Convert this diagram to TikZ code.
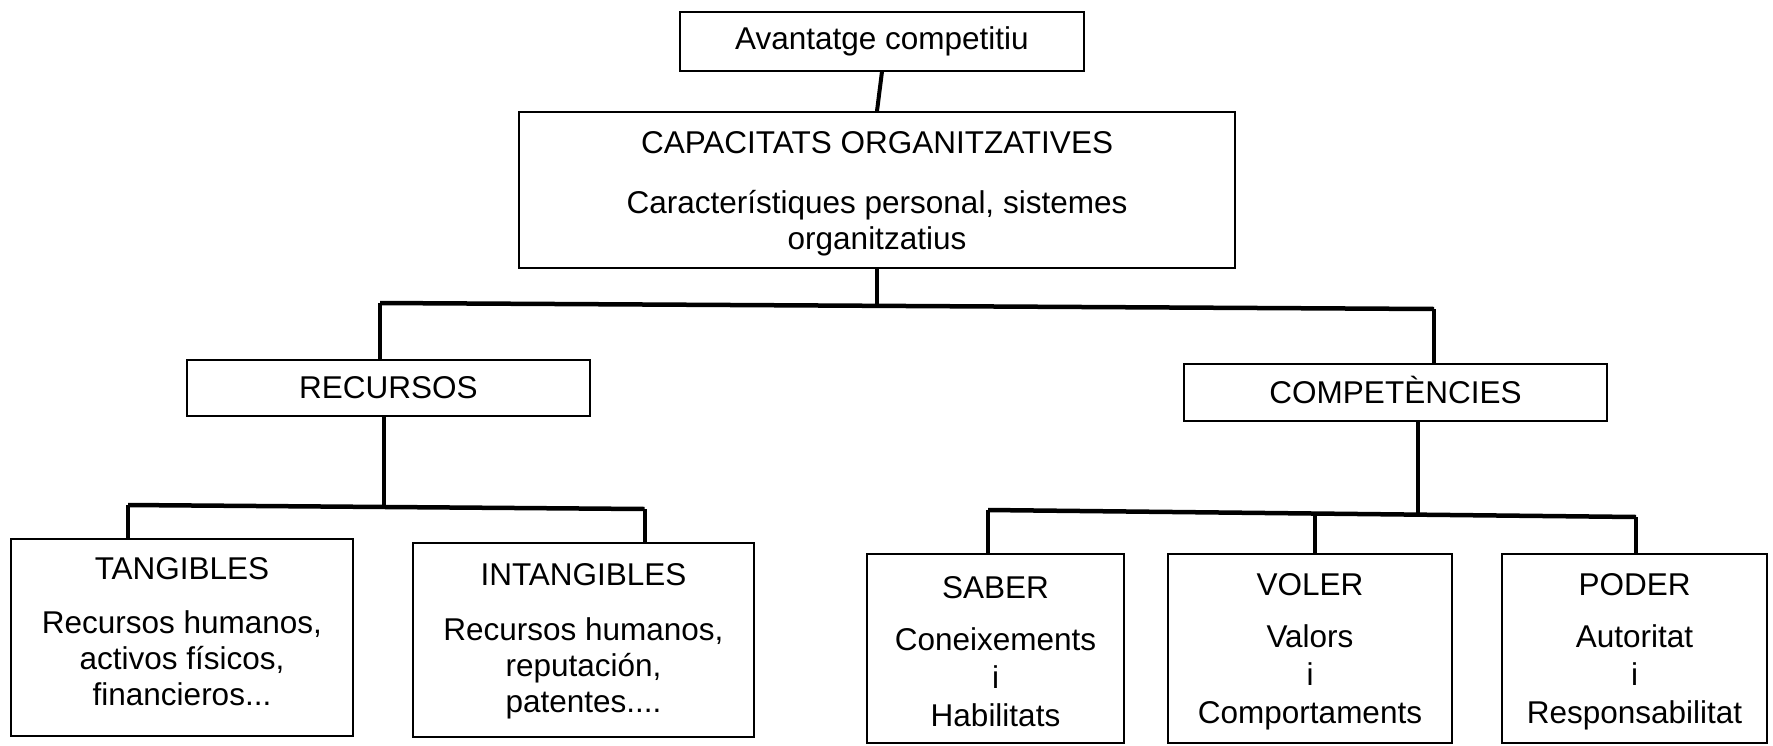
\documentclass[tikz,border=0pt]{standalone}
\usepackage{fontspec}
\setmainfont{Liberation Sans}
\begin{document}
\begin{tikzpicture}[x=1pt,y=-1pt,
  box/.style={draw, line width=2pt, rectangle, inner sep=0pt, align=center,
              font=\fontsize{31.5}{36}\selectfont},
  tallbox/.style={box, minimum height=189pt, font=\fontsize{31.5}{38}\selectfont},
  stem/.style={line width=4pt},
  bar/.style={line width=4.5pt}]
\useasboundingbox (0,0) rectangle (1773,745);
\fill[white] (0,0) rectangle (1773,745);

% boxes
\node[box, minimum width=404pt, minimum height=59pt] (av) at (882,41) {Avantatge competitiu};
\node[box, minimum width=716pt, minimum height=156pt] (cap) at (877,190)
  {\rule{0pt}{30pt}CAPACITATS ORGANITZATIVES\\[24pt]Característiques personal, sistemes\\organitzatius};
\node[box, minimum width=403pt, minimum height=56pt] (rec) at (388.5,388) {RECURSOS};
\node[box, minimum width=423pt, minimum height=57pt] (comp) at (1395.5,392.5)
  {\smash{COMPETÈNCIES}\vphantom{CO}};
\node[box, minimum width=342pt, minimum height=197pt] (tan) at (182,637.5)
  {TANGIBLES\\[18pt]Recursos humanos,\\activos físicos,\\financieros...\rule[-12.5pt]{0pt}{12.5pt}};
\node[box, minimum width=341pt, minimum height=194pt] (intan) at (583.5,640)
  {\rule{0pt}{25pt}INTANGIBLES\\[19pt]Recursos humanos,\\reputación,\\patentes....};
\node[tallbox, minimum width=257pt] (saber) at (995.5,648.5)
  {\rule{0pt}{28.5pt}SABER\\[14pt]Coneixements\\i\\Habilitats};
\node[tallbox, minimum width=284pt] (voler) at (1310,648.5)
  {\rule{0pt}{28.5pt}VOLER\\[14pt]Valors\\i\\Comportaments};
\node[tallbox, minimum width=265pt] (poder) at (1634.5,648.5)
  {\rule{0pt}{28.5pt}PODER\\[14pt]Autoritat\\i\\Responsabilitat};

% junction points of the branching bars
\coordinate (b1l) at (380,303);
\coordinate (b1m) at (877,305);
\coordinate (b1r) at (1434,309);
\coordinate (b2l) at (128,505);
\coordinate (b2m) at (384,507);
\coordinate (b2r) at (644.5,509);
\coordinate (b3l) at (988,510);
\coordinate (b3m) at (1418,514);
\coordinate (b3c) at (1315,513);
\coordinate (b3r) at (1636,517);

% connectors
\draw[stem] (av.south) -- (cap.north);
\draw[stem] (cap.south) -- (b1m);
\draw[bar] (b1l) -- (b1r);
\draw[stem] (b1l) -- (b1l |- rec.north);
\draw[stem] (b1r) -- (b1r |- comp.north);

\draw[stem] (rec.south -| b2m) -- (b2m);
\draw[bar] (b2l) -- (b2r);
\draw[stem] (b2l) -- (b2l |- tan.north);
\draw[stem] (b2r) -- (b2r |- intan.north);

\draw[stem] (comp.south -| b3m) -- (b3m);
\draw[bar] (b3l) -- (b3r);
\draw[stem] (b3l) -- (b3l |- saber.north);
\draw[stem] (b3c) -- (b3c |- voler.north);
\draw[stem] (b3r) -- (b3r |- poder.north);
\end{tikzpicture}
\end{document}
